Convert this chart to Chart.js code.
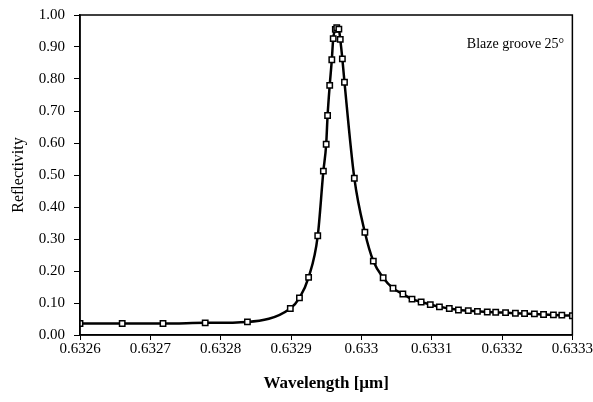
<!DOCTYPE html>
<html>
<head>
<meta charset="utf-8">
<script src="https://cdn.jsdelivr.net/npm/chart.js@4/dist/chart.umd.min.js"></script>
<style>
	body { margin: 0; background: #fff; }
	#wrap { width: 593px; height: 402px; }
</style>
</head>
<body>
<div id="wrap"><canvas id="myChart"></canvas></div>
<script>
// wavelength in micrometres
var wavelength = [0.632600, 0.632660, 0.632718, 0.632778, 0.632838, 0.632899, 0.632912, 0.632925,
	0.632938, 0.632946, 0.632950, 0.632952, 0.632955, 0.632958, 0.632960, 0.632963, 0.632965,
	0.632968, 0.632970, 0.632973, 0.632976, 0.632990, 0.633005, 0.633017, 0.633031, 0.633045,
	0.633059, 0.633072, 0.633085, 0.633098, 0.633111, 0.633125, 0.633138, 0.633152, 0.633165,
	0.633179, 0.633191, 0.633205, 0.633219, 0.633232, 0.633246, 0.633259, 0.633273, 0.633285,
	0.633300];
var reflectivity = [0.036, 0.036, 0.036, 0.038, 0.041, 0.083, 0.116, 0.180,
	0.310, 0.512, 0.596, 0.686, 0.780, 0.860, 0.926, 0.955, 0.960,
	0.956, 0.924, 0.863, 0.790, 0.490, 0.321, 0.231, 0.179, 0.146,
	0.128, 0.112, 0.103, 0.095, 0.088, 0.083, 0.078, 0.076, 0.074,
	0.072, 0.071, 0.070, 0.068, 0.067, 0.066, 0.064, 0.063, 0.062,
	0.060];
var xRange = [0.6326, 0.6333];
var yRange = [0, 1];
var note = 'Blaze groove 25°';

var serif = '"Liberation Serif", "DejaVu Serif", serif';

// box round the plot area + the note
var frame = {
	id: 'frame',
	afterDraw: function (chart) {
		var a = chart.chartArea, c = chart.ctx;
		c.save();
		c.strokeStyle = '#000';
		c.lineWidth = 1.5;
		c.strokeRect(a.left, a.top, a.right - a.left, a.bottom - a.top);
		c.fillStyle = '#000';
		c.font = '14px ' + serif;
		c.textBaseline = 'middle';
		c.fillText(note, chart.scales.x.getPixelForValue(0.633150), chart.scales.y.getPixelForValue(0.907));
		c.restore();
	}
};

var ctx = document.getElementById('myChart').getContext('2d');
var chart = new Chart(ctx, {
	type: 'line',
	data: {
		datasets: [{
			data: wavelength.map(function (w, i) { return { x: w, y: reflectivity[i] }; }),
			borderColor: '#000',
			borderWidth: 2.5,
			cubicInterpolationMode: 'monotone',
			pointStyle: 'rect',
			pointRadius: 3.8,
			pointBorderWidth: 1.5,
			pointBackgroundColor: '#fff',
			pointBorderColor: '#000'
		}]
	},
	options: {
		responsive: true,
		maintainAspectRatio: false,
		animation: false,
		layout: { padding: { left: 0, right: 19, top: 15, bottom: 0 } },
		plugins: { legend: { display: false }, tooltip: { enabled: false } },
		scales: {
			x: {
				type: 'linear',
				min: xRange[0],
				max: xRange[1],
				afterFit: function (s) { s.height = 67; },
				grid: { drawOnChartArea: false, color: '#000', tickLength: 5 },
				border: { color: '#000', width: 1.5 },
				ticks: {
					stepSize: 0.0001,
					color: '#000',
					font: { family: serif, size: 15 },
					padding: 0,
					maxRotation: 0,
					callback: function (v) { return String(+v.toFixed(4)); }
				},
				title: {
					display: true,
					text: 'Wavelength [µm]',
					color: '#000',
					font: { family: serif, size: 17, weight: 'bold' },
					padding: { top: 0, bottom: 8 }
				}
			},
			y: {
				min: yRange[0],
				max: yRange[1],
				afterFit: function (s) { s.width = 80; s.paddingTop = 0; s.paddingBottom = 0; },
				grid: { drawOnChartArea: false, color: '#000', tickLength: 6 },
				border: { color: '#000', width: 1.5 },
				ticks: {
					stepSize: 0.1,
					color: '#000',
					font: { family: serif, size: 15 },
					padding: 9,
					callback: function (v) { return v.toFixed(2); }
				},
				title: {
					display: true,
					text: 'Reflectivity',
					color: '#000',
					font: { family: serif, size: 16 },
					padding: { top: 9, bottom: 0 }
				}
			}
		}
	},
	plugins: [frame]
});
</script>
</body>
</html>
